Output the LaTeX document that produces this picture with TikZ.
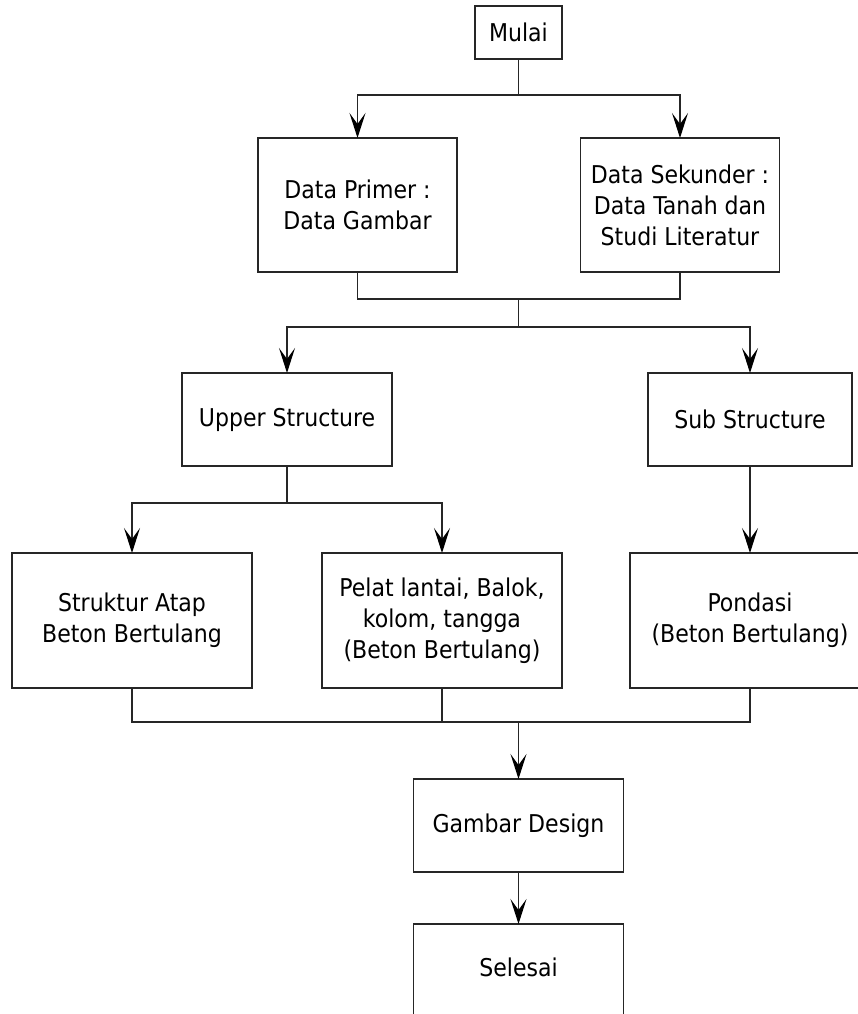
\documentclass[tikz,border=0pt]{standalone}
\usepackage{fontspec}
\setmainfont{DejaVu Sans Condensed}
\usetikzlibrary{arrows.meta}
\begin{document}
\begin{tikzpicture}[x=1pt,y=-1pt,
  box/.style={draw=black!85, line width=1.2pt, fill=white, inner sep=0pt, outer sep=0pt, align=center, font=\fontsize{24.5}{31}\selectfont},
  txt/.style={inner sep=0pt, align=center, font=\fontsize{24.5}{31}\selectfont},
  conn/.style={draw=black!85, line width=1.2pt},
  arr/.style={conn, -{Stealth[length=25pt,width=16pt,inset=11pt,color=black]}}]
\clip (0,0) rectangle (858,1014);
\fill[white] (0,0) rectangle (858,1014);
% boxes
\node[box, minimum width=87, minimum height=53] (mulai) at (518.5,32.5) {Mulai};
\node[box, minimum width=199, minimum height=134] (primer) at (357.5,205) {Data Primer :\\Data Gambar};
\node[box, minimum width=199, minimum height=134] (sekunder) at (680,205) {Data Sekunder :\\Data Tanah dan\\Studi Literatur};
\node[box, minimum width=210, minimum height=93] (upper) at (287,419.5) {Upper Structure};
\node[box, minimum width=204, minimum height=93] (sub) at (750,419.5) {Sub Structure};
\node[box, minimum width=240, minimum height=135] (atap) at (132,620.5) {Struktur Atap\\Beton Bertulang};
\node[box, minimum width=240, minimum height=135] (pelat) at (442,620.5) {Pelat lantai, Balok,\\kolom, tangga\\(Beton Bertulang)};
\node[box, minimum width=240, minimum height=135] (pondasi) at (750,620.5) {Pondasi\\(Beton Bertulang)};
\node[box, minimum width=210, minimum height=93] (gambar) at (518.5,825.5) {Gambar Design};
\node[box, minimum width=210, minimum height=130, anchor=north] (selesai) at (518.5,924) {};
\node[txt] (selesaitxt) at (518.5,967) {Selesai};
% junction points
\coordinate (s1) at (518.5,95);
\coordinate (j1) at (518.5,299);
\coordinate (s2) at (518.5,327);
\coordinate (s3) at (287,503);
\coordinate (m) at (518.5,722);
% connectors
\draw[conn] (mulai.south) -- (s1);
\draw[arr] (s1) -| (primer.north);
\draw[arr] (s1) -| (sekunder.north);
\draw[conn] (primer.south) |- (j1) -| (sekunder.south);
\draw[conn] (j1) -- (s2);
\draw[arr] (s2) -| (upper.north);
\draw[arr] (s2) -| (sub.north);
\draw[conn] (upper.south) -- (s3);
\draw[arr] (s3) -| (atap.north);
\draw[arr] (s3) -| (pelat.north);
\draw[arr] (sub.south) -- (pondasi.north);
\draw[conn] (atap.south) |- (m);
\draw[conn] (pelat.south) |- (m);
\draw[conn] (pondasi.south) |- (m);
\draw[arr] (m) -- (gambar.north);
\draw[arr] (gambar.south) -- (selesai.north);
\end{tikzpicture}
\end{document}
